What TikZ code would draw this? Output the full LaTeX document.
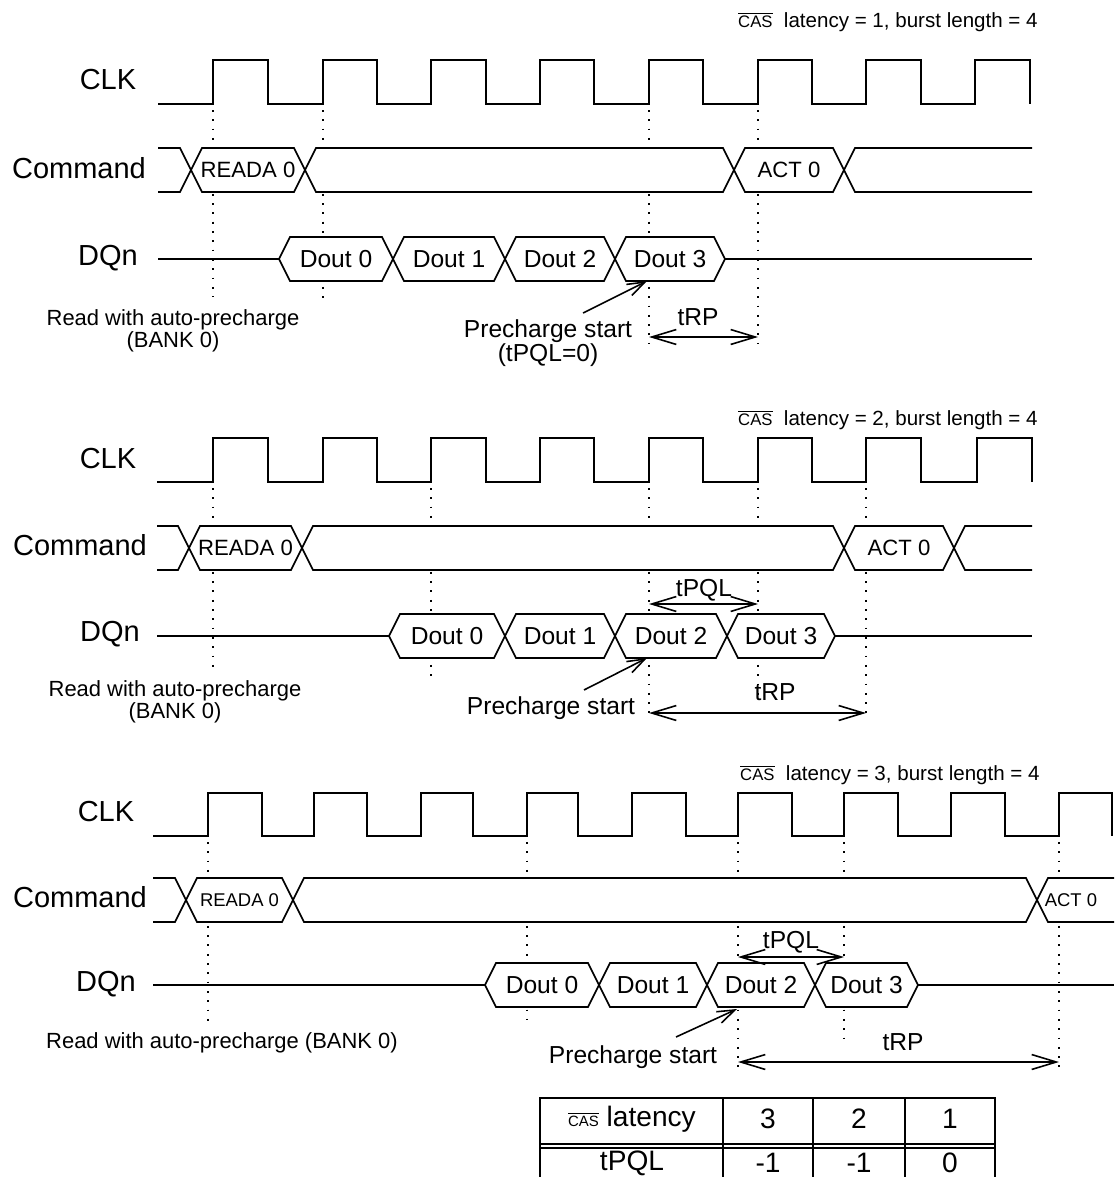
\documentclass[tikz,border=0pt]{standalone}
\usepackage{fontspec}
\setmainfont{Liberation Sans}
\usepackage{tikz}
\usetikzlibrary{arrows.meta}

\newcommand{\casbar}[1][9.5]{$\overline{\hbox{\fontsize{#1}{#1}\selectfont CAS}}$}
\newcommand{\hexcell}[6][dout]{%
  \draw[bus] (#3,#5) -- ++(11,-22) -- (#4-11,#5-22) -- (#4,#5) -- (#4-11,#5+22) -- (#3+11,#5+22) -- cycle;
  \coordinate (#2-l) at (#3,#5);
  \coordinate (#2-r) at (#4,#5);
  \node[#1] (#2) at ({(#3+#4)/2},#5) {#6};
}

\begin{document}
\begin{tikzpicture}[x=0.02cm,y=-0.02cm]
            \tikzset{wire/.style = {line width=1pt}}
            \tikzset{bus/.style = {line width=1pt, fill=white}}
            \tikzset{guide/.style = {line width=1pt, dash pattern=on 1pt off 4.3pt}}
            \tikzset{dim/.style = {line width=0.9pt, {Straight Barb[length=14pt,width=8.5pt]}-{Straight Barb[length=14pt,width=8.5pt]}}}
            \tikzset{pointer/.style = {line width=0.9pt, -{Straight Barb[length=10pt,width=7pt]}}}
            \tikzset{sig/.style = {inner sep=0pt, font=\fontsize{16.5}{18}\selectfont}}
            \tikzset{dout/.style = {inner sep=0pt, font=\fontsize{14}{16}\selectfont}}
            \tikzset{cmd/.style = {inner sep=0pt, font=\fontsize{12.6}{14}\selectfont}}
            \tikzset{cmdsmall/.style = {inner sep=0pt, font=\fontsize{10.5}{12}\selectfont}}
            \tikzset{note/.style = {inner sep=0pt, align=center, font=\fontsize{12.5}{10.5}\selectfont}}
            \tikzset{big/.style = {inner sep=0pt, align=center, font=\fontsize{14}{12}\selectfont}}
            \tikzset{ttl/.style = {inner sep=0pt, anchor=base east, font=\fontsize{11.7}{13}\selectfont}}
            \tikzset{tab/.style = {inner sep=0pt, font=\fontsize{16}{18}\selectfont}}

            \useasboundingbox (0,0) rectangle (1115,1177);

            % CAS latency = 1
            \draw[guide] (213,110) -- (213,297);
            \draw[guide] (323,110) -- (323,298);
            \draw[guide] (649,110) -- (649,343);
            \draw[guide] (758,110) -- (758,343);

            \node[ttl] (ttl1) at (1038,27) {\casbar\ \ latency = 1, burst length = 4};
            \node[sig] (clk1) at (108,80) {CLK};
            \node[sig] (cmd1) at (79,168) {Command};
            \node[sig] (dqn1) at (108,258) {DQn};

            \draw[wire] (158,104) -| (213,60) -| (268,104) -| (323,60) -| (377,104) -| (431,60) -| (486,104) -| (540,60) -| (594,104) -| (649,60) -| (703,104) -| (758,60) -| (812,104) -| (866,60) -| (921,104) -| (975,60) -| (1030,104);

            \hexcell[cmd]{ra1}{191}{305}{170}{READA 0}
            \hexcell[cmd]{nop1}{305}{734}{170}{}
            \hexcell[cmd]{act1}{734}{844}{170}{ACT 0}
            \draw[wire] (158,148) -- (180,148) -- (ra1-l) -- (180,192) -- (158,192);
            \draw[wire] (1032,148) -- (855,148) -- (act1-r) -- (855,192) -- (1032,192);

            \hexcell{d10}{279}{393}{259}{Dout 0}
            \hexcell{d11}{393}{505}{259}{Dout 1}
            \hexcell{d12}{505}{615}{259}{Dout 2}
            \hexcell{d13}{615}{725}{259}{Dout 3}
            \coordinate (dq1s) at (158,259);
            \coordinate (dq1e) at (1032,259);
            \draw[wire] (dq1s) -- (d10-l);
            \draw[wire] (d13-r) -- (dq1e);

            \node[note] (rd1) at (173,331) {Read with auto-precharge\\(BANK 0)};
            \node[big] (ps1) at (548,343) {Precharge start\\(tPQL=0)};
            \coordinate (ps1tail) at (583,313);
            \coordinate (ps1tip) at (647,281);
            \draw[pointer] (ps1tail) -- (ps1tip);
            \node[big] (trp1) at (698,317) {tRP};
            \coordinate (trp1a) at (649,337);
            \coordinate (trp1b) at (758,337);
            \draw[dim] (trp1a) -- (trp1b);

            % CAS latency = 2
            \draw[guide] (213,488) -- (213,673);
            \draw[guide] (431,488) -- (431,677);
            \draw[guide] (649,488) -- (649,717);
            \draw[guide] (758,488) -- (758,700);
            \draw[guide] (866,488) -- (866,717);

            \node[ttl] (ttl2) at (1038,425) {\casbar\ \ latency = 2, burst length = 4};
            \node[sig] (clk2) at (108,459) {CLK};
            \node[sig] (cmd2) at (80,545) {Command};
            \node[sig] (dqn2) at (110,634) {DQn};

            \draw[wire] (157,482) -| (213,438) -| (268,482) -| (323,438) -| (377,482) -| (431,438) -| (486,482) -| (540,438) -| (594,482) -| (649,438) -| (703,482) -| (758,438) -| (812,482) -| (866,438) -| (921,482) -| (977,438) -| (1032,482);

            \hexcell[cmd]{ra2}{189}{302}{548}{READA 0}
            \hexcell[cmd]{nop2}{302}{844}{548}{}
            \hexcell[cmd]{act2}{844}{954}{548}{ACT 0}
            \draw[wire] (157,526) -- (178,526) -- (ra2-l) -- (178,570) -- (157,570);
            \draw[wire] (1032,526) -- (965,526) -- (act2-r) -- (965,570) -- (1032,570);

            \hexcell{d20}{389}{505}{636}{Dout 0}
            \hexcell{d21}{505}{615}{636}{Dout 1}
            \hexcell{d22}{615}{727}{636}{Dout 2}
            \hexcell{d23}{727}{835}{636}{Dout 3}
            \coordinate (dq2s) at (157,636);
            \coordinate (dq2e) at (1032,636);
            \draw[wire] (dq2s) -- (d20-l);
            \draw[wire] (d23-r) -- (dq2e);

            \node[note] (rd2) at (175,702) {Read with auto-precharge\\(BANK 0)};
            \node[big] (ps2) at (551,708) {Precharge start};
            \coordinate (ps2tail) at (584,690);
            \coordinate (ps2tip) at (647,658);
            \draw[pointer] (ps2tail) -- (ps2tip);
            \node[big] (tpql2) at (704,590) {tPQL};
            \coordinate (tpql2a) at (649,604);
            \coordinate (tpql2b) at (758,604);
            \draw[dim] (tpql2a) -- (tpql2b);
            \node[big] (trp2) at (775,692) {tRP};
            \coordinate (trp2a) at (649,713);
            \coordinate (trp2b) at (866,713);
            \draw[dim] (trp2a) -- (trp2b);

            % CAS latency = 3
            \draw[guide] (208,842) -- (208,1027);
            \draw[guide] (527,842) -- (527,1020);
            \draw[guide] (738,842) -- (738,1070);
            \draw[guide] (844,842) -- (844,1043);
            \draw[guide] (1059,842) -- (1059,1073);

            \node[ttl] (ttl3) at (1040,780) {\casbar\ \ latency = 3, burst length = 4};
            \node[sig] (clk3) at (106,812) {CLK};
            \node[sig] (cmd3) at (80,897) {Command};
            \node[sig] (dqn3) at (106,984) {DQn};

            \draw[wire] (153,836) -| (208,793) -| (262,836) -| (314,793) -| (367,836) -| (421,793) -| (473,836) -| (527,793) -| (578,836) -| (632,793) -| (686,836) -| (738,793) -| (792,836) -| (844,793) -| (898,836) -| (951,793) -| (1005,836) -| (1059,793) -| (1112,836);

            \hexcell[cmdsmall]{ra3}{186}{293}{900}{READA 0}
            \hexcell[cmdsmall]{nop3}{293}{1037}{900}{}
            \draw[wire] (153,878) -- (175,878) -- (ra3-l) -- (175,922) -- (153,922);
            \fill[white] (nop3-r) -- (1048,878) -- (1114,878) -- (1114,922) -- (1048,922) -- cycle;
            \draw[wire] (1114,878) -- (1048,878) -- (nop3-r) -- (1048,922) -- (1114,922);
            \node[cmdsmall] (act3) at (1071,900) {ACT 0};

            \hexcell{d30}{485}{599}{985}{Dout 0}
            \hexcell{d31}{599}{707}{985}{Dout 1}
            \hexcell{d32}{707}{815}{985}{Dout 2}
            \hexcell{d33}{815}{918}{985}{Dout 3}
            \coordinate (dq3s) at (153,985);
            \coordinate (dq3e) at (1114,985);
            \draw[wire] (dq3s) -- (d30-l);
            \draw[wire] (d33-r) -- (dq3e);

            \node[note] (rd3) at (222,1043) {Read with auto-precharge (BANK 0)};
            \node[big] (ps3) at (633,1057) {Precharge start};
            \coordinate (ps3tail) at (676,1037);
            \coordinate (ps3tip) at (737,1009);
            \draw[pointer] (ps3tail) -- (ps3tip);
            \node[big] (tpql3) at (791,942) {tPQL};
            \coordinate (tpql3a) at (738,957);
            \coordinate (tpql3b) at (844,957);
            \draw[dim] (tpql3a) -- (tpql3b);
            \node[big] (trp3) at (903,1042) {tRP};
            \coordinate (trp3a) at (738,1062);
            \coordinate (trp3b) at (1059,1062);
            \draw[dim] (trp3a) -- (trp3b);

            % table
            \draw[wire] (540,1177) -- (540,1098) -- (995,1098) -- (995,1177);
            \draw[wire] (723,1098) -- (723,1177);
            \draw[wire] (813,1098) -- (813,1177);
            \draw[wire] (905,1098) -- (905,1177);
            \draw[wire] (540,1144) -- (995,1144);
            \draw[wire] (540,1148) -- (995,1148);

            \node[tab] (tcas) at (632,1119) {\casbar[8.5]\ latency};
            \node[tab] (tc3) at (768,1119) {3};
            \node[tab] (tc2) at (859,1119) {2};
            \node[tab] (tc1) at (950,1119) {1};
            \node[tab] (tpql) at (632,1163) {tPQL};
            \node[tab] (tp3) at (768,1163) {-1};
            \node[tab] (tp2) at (859,1163) {-1};
            \node[tab] (tp1) at (950,1163) {0};

        \end{tikzpicture}
\end{document}
